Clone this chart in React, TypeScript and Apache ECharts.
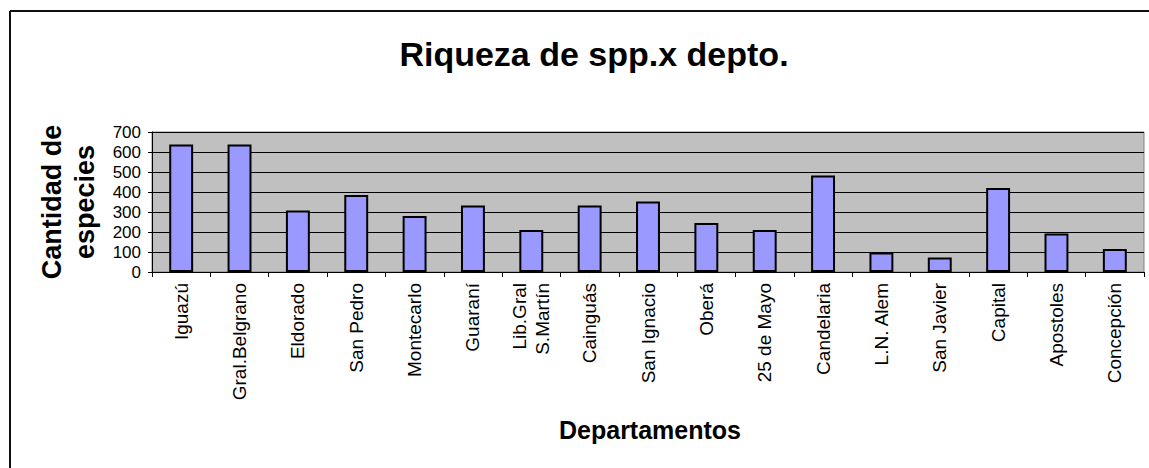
import React, { useEffect, useRef } from "react";
import * as echarts from "echarts";

const departamentos = [
  "Iguazú", "Gral.Belgrano", "Eldorado", "San Pedro", "Montecarlo", "Guaraní",
  "Lib.Gral\nS.Martín", "Cainguás", "San Ignacio", "Oberá", "25 de Mayo",
  "Candelaria", "L.N. Alem", "San Javier", "Capital", "Apostoles", "Concepción",
];
const especies = [638, 638, 307, 385, 280, 332, 210, 332, 352, 245, 210, 482, 97, 72, 420, 192, 115];
const yTicks = { min: 0, max: 700, interval: 100 };

const FONT = "'Liberation Sans', Arial, sans-serif";

export default function App() {
  const ref = useRef<HTMLDivElement>(null);
  useEffect(() => {
    if (!ref.current) return;
    const chart = echarts.init(ref.current, undefined, { renderer: "svg" });
    chart.setOption({
      animation: false,
      backgroundColor: "#ffffff",
      textStyle: { fontFamily: FONT },
      grid: {
        left: 152,
        right: 5,
        top: 132,
        bottom: 196,
        show: true,
        backgroundColor: "#c0c0c0",
        borderColor: "#808080",
        borderWidth: 1,
      },
      xAxis: {
        type: "category",
        data: departamentos,
        boundaryGap: true,
        axisLine: { show: true, lineStyle: { color: "#000", width: 1 } },
        axisTick: { show: true, alignWithLabel: false, length: 5, lineStyle: { color: "#000" } },
        axisLabel: {
          rotate: 90,
          interval: 0,
          margin: 11,
          fontSize: 19,
          lineHeight: 23,
          color: "#000",
          fontFamily: FONT,
        },
      },
      yAxis: {
        type: "value",
        min: yTicks.min,
        max: yTicks.max,
        interval: yTicks.interval,
        axisLine: { show: true, lineStyle: { color: "#000", width: 1 } },
        axisTick: { show: true, length: 4, lineStyle: { color: "#000" } },
        axisLabel: { fontSize: 17, color: "#000", margin: 11, fontFamily: FONT },
        splitLine: { show: true, lineStyle: { color: "#000", width: 1 } },
      },
      series: [
        {
          type: "bar",
          data: especies,
          barWidth: "41%",
          itemStyle: { color: "#9999ff", borderColor: "#000", borderWidth: 2 },
        },
      ],
      graphic: [
        {
          type: "line",
          shape: { x1: 10, y1: 11, x2: 1149, y2: 11 },
          style: { stroke: "#111", lineWidth: 2 },
        },
        {
          type: "line",
          shape: { x1: 10, y1: 11, x2: 10, y2: 468 },
          style: { stroke: "#111", lineWidth: 2 },
        },
        {
          type: "text",
          x: 594,
          y: 54,
          style: {
            text: "Riqueza de spp.x depto.",
            font: `bold 34px ${FONT}`,
            fill: "#000",
            align: "center",
            verticalAlign: "middle",
          },
        },
        {
          type: "text",
          x: 650,
          y: 430,
          style: {
            text: "Departamentos",
            font: `bold 25px ${FONT}`,
            fill: "#000",
            align: "center",
            verticalAlign: "middle",
          },
        },
        {
          type: "text",
          x: 68,
          y: 202,
          rotation: Math.PI / 2,
          style: {
            text: "Cantidad de\nespecies",
            font: `bold 27px ${FONT}`,
            lineHeight: 33,
            fill: "#000",
            align: "center",
            verticalAlign: "middle",
          },
        },
      ],
    });
    return () => chart.dispose();
  }, []);
  return (
    <div
      ref={ref}
      style={{ position: "fixed", left: 0, top: 0, width: 1149, height: 468 }}
    />
  );
}
